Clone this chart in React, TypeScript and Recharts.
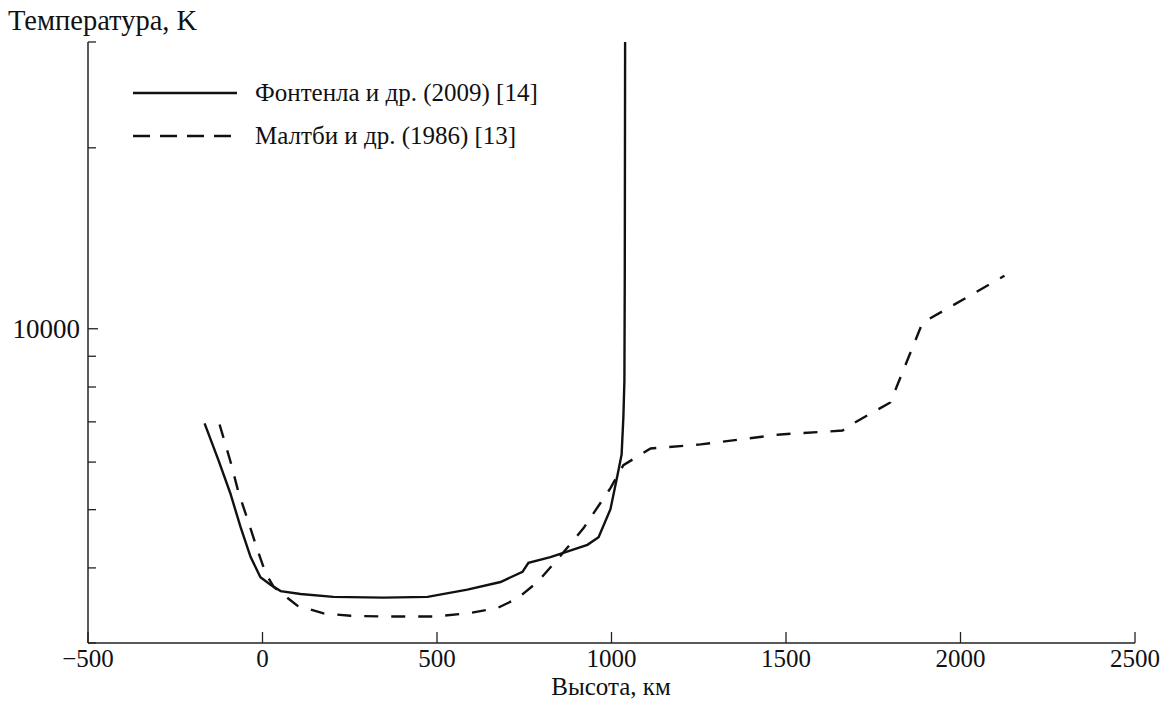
import React from 'react';
import { LineChart, Line, XAxis, YAxis, Legend } from 'recharts';

// высота, км
const heightTicks = [-500, 0, 500, 1000, 1500, 2000, 2500];
// температура, K (логарифмическая шкала)
const tempTicks = [3000, 4000, 5000, 6000, 7000, 8000, 9000, 10000, 20000, 30000];
const labeledTemps = [10000];

// Фонтенла и др. (2009)
const fontenlaHeight = [-166, -126, -92, -63, -34, -6, 23, 52, 109, 203, 347, 473, 587, 682, 745, 762, 825, 931, 963, 997, 1017, 1029, 1034, 1037, 1038, 1039];
const fontenlaTemp = [6960, 6040, 5320, 4680, 4170, 3860, 3750, 3660, 3620, 3580, 3570, 3580, 3680, 3790, 3940, 4080, 4170, 4370, 4500, 5010, 5700, 6180, 7120, 8200, 12000, 30000];

// Малтби и др. (1986)
const maltbyHeight = [-123, -92, -69, -43, -14, 9, 32, 100, 175, 252, 347, 490, 587, 673, 731, 788, 854, 920, 997, 1034, 1112, 1255, 1484, 1662, 1693, 1799, 1891, 2126];
const maltbyTemp = [6930, 6020, 5350, 4820, 4280, 3920, 3720, 3460, 3360, 3330, 3320, 3320, 3360, 3430, 3560, 3790, 4190, 4660, 5430, 5930, 6320, 6420, 6670, 6770, 6960, 7540, 10230, 12250];

const FONT = '"Liberation Serif", "Times New Roman", serif';
const INK = '#111';

const toPoints = (xs: number[], ys: number[]) => xs.map((h, i) => ({ h, t: ys[i] }));

const series = [
  { key: 'fontenla', name: 'Фонтенла и др. (2009) [14]', data: toPoints(fontenlaHeight, fontenlaTemp), dash: undefined, legendDash: undefined },
  { key: 'maltby', name: 'Малтби и др. (1986) [13]', data: toPoints(maltbyHeight, maltbyTemp), dash: '14 13', legendDash: '17 10' },
];

const fmtHeight = (v: number) => (v < 0 ? '\u2212' + Math.abs(v) : String(v));

function XTick(props: any) {
  const { x, y, payload } = props;
  return (
    <g>
      <line x1={x} x2={x} y1={y} y2={y - 11} stroke="#222" strokeWidth={1.3} />
      <text x={x} y={y + 24} textAnchor="middle" fontFamily={FONT} fontSize={25} fill={INK}>
        {fmtHeight(payload.value)}
      </text>
    </g>
  );
}

function YTick(props: any) {
  const { x, y, payload } = props;
  const labeled = labeledTemps.includes(payload.value);
  return (
    <g>
      <line x1={x} x2={x + (labeled ? 10 : 8)} y1={y} y2={y} stroke="#222" strokeWidth={1.3} />
      {labeled && (
        <text x={x - 8} y={y + 9} textAnchor="end" fontFamily={FONT} fontSize={27} fill={INK}>
          {payload.value}
        </text>
      )}
    </g>
  );
}

function LegendBox() {
  return (
    <div style={{ fontFamily: FONT, fontSize: 25, color: INK }}>
      {series.map((s) => (
        <div key={s.key} style={{ display: 'flex', alignItems: 'center', height: 43, whiteSpace: 'nowrap' }}>
          <svg width={122} height={10} style={{ display: 'block' }}>
            <line x1={0} x2={104} y1={5} y2={5} stroke={INK} strokeWidth={2.4} strokeDasharray={s.legendDash} />
          </svg>
          <span>{s.name}</span>
        </div>
      ))}
    </div>
  );
}

export default function App() {
  return (
    <div style={{ position: 'absolute', left: 0, top: 0, width: 1169, height: 702, background: '#fff' }}>
      <LineChart width={1169} height={702} margin={{ top: 42, right: 34, left: 87, bottom: 58 }}>
        <XAxis
          dataKey="h"
          type="number"
          domain={[-500, 2500]}
          ticks={heightTicks}
          interval={0}
          height={1}
          tickSize={0}
          tickMargin={0}
          tickLine={false}
          tick={<XTick />}
          axisLine={{ stroke: '#222', strokeWidth: 1.5 }}
          allowDataOverflow
        />
        <YAxis
          dataKey="t"
          type="number"
          scale="log"
          domain={[3000, 30000]}
          ticks={tempTicks}
          interval={0}
          width={1}
          tickSize={0}
          tickMargin={0}
          tickLine={false}
          tick={<YTick />}
          axisLine={{ stroke: '#222', strokeWidth: 1.5 }}
          allowDataOverflow
        />
        <Legend
          layout="vertical"
          align="center"
          verticalAlign="middle"
          content={<LegendBox />}
          wrapperStyle={{ left: 133, top: 71, width: 'auto', height: 'auto' }}
        />
        {series.map((s) => (
          <Line
            key={s.key}
            data={s.data}
            dataKey="t"
            name={s.name}
            type="linear"
            stroke={INK}
            strokeWidth={2.4}
            strokeDasharray={s.dash}
            dot={false}
            activeDot={false}
            isAnimationActive={false}
          />
        ))}
      </LineChart>
      <svg width={1169} height={702} style={{ position: 'absolute', left: 0, top: 0, pointerEvents: 'none' }}>
        <text x={8} y={30} fontFamily={FONT} fontSize={28.5} fill={INK}>Температура, K</text>
        <text x={611} y={695} textAnchor="middle" fontFamily={FONT} fontSize={25} fill={INK}>Высота, км</text>
      </svg>
    </div>
  );
}
